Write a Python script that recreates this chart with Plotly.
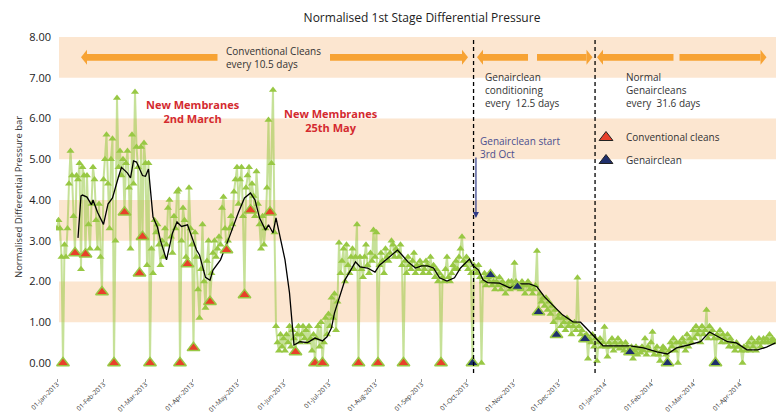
import pandas as pd
import plotly.graph_objects as go

BASE = pd.Timestamp("2013-01-01")

# ---------------- data ----------------
green_2013_01 = [3.3, 3.5, 3.3, 2.6, 0, 2.9, 2.6, 3.3, 4.4, 5.2, 4.6, 3.6, 2.7, 4.6, 4.5, 4.9, 2.3, 4.8, 4.6, 2.67,
                 4.6, 3.4, 2.8, 3.9, 4.8, 4.5, 3.5, 2.8, 3.9, 2.6, 1.74]
green_2013_02 = [4.5, 5.0, 5.6, 4.4, 3.3, 5.0, 5.5, 0, 3.0, 6.5, 4.8, 5.2, 4.6, 5.0, 3.7, 4.9, 5.2, 4.3, 2.8, 5.6,
                 4.4, 6.65, 5.3, 4.8, 2.2, 5.3, 3.1, 5.4]
green_2013_03 = [4.9, 2.4, 4.9, 0, 2.8, 2.2, 3.5, 3.2, 3.4, 2.9, 2.4, 3.0, 2.6, 3.3, 2.9, 3.8, 4.0, 3.1, 2.7, 3.6,
                 3.3, 4.2, 4.25, 0, 3.0, 3.8, 3.5, 2.6, 2.43, 4.3, 3.3]
green_2013_04 = [2.9, 0.37, 3.2, 2.6, 1.8, 1.1, 2.3, 3.4, 2.0, 1.35, 2.5, 3.0, 1.5, 2.2, 2.7, 3.0, 2.6, 2.8, 3.1, 2.9,
                 3.8, 4.07, 3.3, 2.77, 3.0, 3.3, 3.6, 3.4, 4.2, 4.5]
green_2013_05 = [4.8, 3.9, 4.5, 4.8, 3.6, 1.67, 4.3, 4.6, 4.8, 3.75, 4.4, 4.1, 3.6, 4.7, 3.9, 3.4, 2.8, 3.6, 2.9, 3.3,
                 4.3, 5.96, 3.7, 4.9, 6.7, 3.2, 0.9, 0.5, 0.3, 0.7, 0.4]
green_2013_06 = [0.6, 0.3, 0.7, 0.5, 0.9, 0.4, 0.8, 0.6, 0.27, 0.7, 0.9, 0.5, 0.7, 0.9, 0.6, 0.8, 0.5, 0.9, 0.6, 0.3,
                 0.7, 0, 0.6, 0.9, 0.4, 1.0, 0, 0.5, 1.1, 0.7]
green_2013_07 = [1.2, 0.9, 1.6, 1.1, 1.7, 0.8, 1.5, 2.95, 2.2, 2.5, 2.8, 2.0, 2.9, 2.4, 2.2, 2.6, 2.8, 2.3, 2.6, 3.4,
                 0, 2.6, 2.3, 2.1, 2.6, 2.9, 2.4, 2.2, 2.7, 2.5, 3.26]
green_2013_08 = [2.6, 3.2, 0, 2.4, 2.7, 2.5, 2.2, 2.8, 2.6, 2.5, 2.7, 3.0, 2.9, 2.6, 2.8, 2.75, 2.6, 2.9, 2.4, 0,
                 2.5, 2.2, 2.6, 2.4, 2.3, 2.5, 2.7, 2.2, 2.4, 2.3, 2.5]
green_2013_09 = [2.4, 2.2, 2.3, 2.5, 2.4, 2.2, 2.6, 2.3, 2.4, 2.1, 2.3, 2.0, 2.2, 0, 2.1, 2.0, 2.3, 2.6, 2.1, 2.0,
                 2.2, 2.4, 2.3, 2.5, 2.3, 2.6, 2.8, 3.1, 2.5, 2.4]
green_2013_10 = [2.6, 2.3, 2.5, 2.2, 0, 2.4, 2.3, 2.2, 2.4, 2.1, 0, 2.0, 2.2, 1.9, 2.1, 2.0, 2.16, 1.9, 2.0, 1.8,
                 2.0, 1.9, 2.1, 1.8, 2.0, 1.9, 1.7, 1.9, 2.0, 1.8, 2.0]
green_2013_11 = [1.9, 2.45, 2.0, 1.87, 1.9, 1.8, 2.0, 1.9, 1.7, 1.9, 2.0, 1.8, 1.9, 1.7, 1.8, 1.9, 2.75, 1.25, 1.7, 1.5,
                 1.6, 1.4, 1.6, 1.3, 1.5, 1.2, 1.4, 1.0, 1.3, 0.69]
green_2013_12 = [1.1, 1.2, 0.9, 1.1, 1.0, 0.8, 1.1, 0.9, 1.0, 0.7, 0.9, 1.0, 0.8, 2.09, 0.9, 0.7, 0.8, 0.6, 0.59, 0.7,
                 0.1, 0.6, 0.5, 0.7, 0.4, 0.6, 0.05, 0.5, 0.6, 0.4, 0.5]
green_2014_01 = [0.88, 0.4, 0.15, 0.5, 0.4, 0.6, 0.3, 0.5, 0.4, 0.6, 0.35, 0.5, 0.4, 0.3, 0.5, 0.4, 0.3, 0.27, 0.4, 0.1,
                 0.3, 0.4, 0.2, 0.35, 0.25, 0.4, 0.3, 0.6, 0.2, 0.4, 0.3]
green_2014_02 = [0.5, 0.76, 0.2, 0.3, 0.4, 0.2, 0.05, 0.3, 0.4, 0.35, 0.2, 0, 0.3, 0.5, 0.4, 0.6, 0.3, 0.5, 0.0, 0.5,
                 0.4, 0.6, 0.5, 0.3, 0.7, 0.4, 0.6, 0.5]
green_2014_03 = [0.8, 0.6, 0.9, 0.7, 0.8, 0.5, 0.9, 0.7, 0.8, 1.3, 0.6, 0.9, 0.7, 0.8, 0.6, 0, 0.7, 0.6, 0.8, 0.5,
                 0.7, 0.6, 0.5, 0.7, 0.4, 0.6, 0.5, 0.4, 0.3, 0.5, 0.4]
green_2014_04 = [0.4, 0.3, 0.0, 0.4, 0.3, 0.4, 0.5, 0.3, 0.6, 0.4, 0.5, 0.3, 0.5, 0.6, 0.4, 0.5, 0.6, 0.5, 0.6, 0.5,
                 0.7, 0.5, 0.6, 0.55, 0.5]

green_months = [
    ("2013-01-01", green_2013_01), ("2013-02-01", green_2013_02), ("2013-03-01", green_2013_03),
    ("2013-04-01", green_2013_04), ("2013-05-01", green_2013_05), ("2013-06-01", green_2013_06),
    ("2013-07-01", green_2013_07), ("2013-08-01", green_2013_08), ("2013-09-01", green_2013_09),
    ("2013-10-01", green_2013_10), ("2013-11-01", green_2013_11), ("2013-12-01", green_2013_12),
    ("2014-01-01", green_2014_01), ("2014-02-01", green_2014_02), ("2014-03-01", green_2014_03),
    ("2014-04-01", green_2014_04),
]

# trend (black line): day offset from 1 Jan 2013, value
trend_day = [14, 16, 17, 20, 23, 24, 27, 31, 34, 37, 41, 43, 47, 49, 51, 53, 57, 59, 61, 64, 67, 69, 73, 77, 80,
             83, 87, 90, 93, 95, 99, 102, 104, 109, 113, 115, 121, 125, 129, 132, 135, 139, 141, 144, 146, 149,
             152, 155, 157, 158, 162, 167, 172, 177, 180, 183, 185, 189, 192, 195, 199, 202, 207, 212, 215, 221,
             227, 230, 234, 239, 243, 247, 251, 255, 260, 265, 269, 275, 277, 281, 284, 287, 290, 295, 302, 307,
             315, 320, 325, 332, 337, 344, 349, 354, 359, 364, 373, 382, 391, 400, 407, 413, 421, 429, 435, 441,
             447, 453, 460, 467, 473, 479]
trend_val = [3.07, 4.1, 4.12, 4.07, 3.88, 4.0, 3.7, 3.4, 3.9, 4.05, 4.57, 4.8, 4.66, 4.54, 4.96, 4.93, 4.6, 4.58,
             4.76, 3.58, 3.33, 3.0, 2.53, 3.19, 3.46, 3.35, 3.39, 3.1, 2.77, 2.65, 2.1, 2.03, 2.28, 2.53, 2.9, 3.1,
             3.7, 4.05, 4.17, 4.0, 3.56, 3.26, 3.39, 3.19, 3.56, 3.07, 2.53, 1.72, 0.81, 0.44, 0.52, 0.5, 0.61,
             0.54, 0.64, 0.86, 1.23, 1.72, 2.04, 2.23, 2.48, 2.36, 2.33, 2.23, 2.4, 2.58, 2.77, 2.65, 2.48, 2.33,
             2.38, 2.38, 2.33, 2.09, 2.01, 2.09, 2.33, 2.55, 2.4, 2.28, 2.04, 1.97, 1.96, 1.96, 1.84, 1.94, 1.94,
             1.87, 1.62, 1.35, 1.18, 1.01, 1.0, 0.81, 0.61, 0.42, 0.42, 0.42, 0.37, 0.27, 0.22, 0.37, 0.44, 0.52,
             0.76, 0.64, 0.52, 0.49, 0.32, 0.32, 0.39, 0.49]

conv_day = [4, 38, 62, 82, 172, 177, 201, 214, 231, 256, 12, 19, 30, 45, 55, 57, 87, 91, 102, 113, 125, 129, 142, 159]
conv_val = [0, 0, 0, 0, 0, 0, 0, 0, 0, 0, 2.7, 2.67, 1.74, 3.7, 2.2, 3.1, 2.43, 0.37, 1.5, 2.77, 1.67, 3.75, 3.7, 0.27]

gen_day = [277, 289, 307, 321, 333, 352, 382, 407, 439]
gen_val = [0, 2.16, 1.87, 1.25, 0.69, 0.59, 0.27, 0, 0]

y_ticks = [0, 1, 2, 3, 4, 5, 6, 7, 8]
bands = [(1, 2), (3, 4), (5, 6), (7, 8)]

# ---------------- build ----------------
g_x, g_y = [], []
for start, vals in green_months:
    g_x += list(pd.date_range(start, periods=len(vals), freq="D"))
    g_y += vals


def d2t(days):
    return [BASE + pd.Timedelta(days=float(d)) for d in days]


D0, D1 = -0.667, 479.33     # x range in days
Y0, Y1 = -0.37, 8.0
L, T = 56, 37
W, H = 720, 341             # plot area px


def xp(day):
    return (day - D0) / (D1 - D0)


def yp(v):
    return (v - Y0) / (Y1 - Y0)


def px2x(px):
    return (px - L) / W


def px2y(py):
    return (T + H - py) / H


FONT = "Open Sans"
GREEN = "rgb(152,200,68)"
fig = go.Figure()

fig.add_trace(go.Scatter(
    x=g_x, y=g_y, mode="lines+markers", showlegend=False,
    line=dict(color="rgba(152,200,68,0.55)", width=2),
    marker=dict(symbol="triangle-up", size=7, color=GREEN),
    hoverinfo="skip"))
fig.add_trace(go.Scatter(
    x=d2t(trend_day), y=trend_val, mode="lines", showlegend=False,
    line=dict(color="black", width=1.3)))
fig.add_trace(go.Scatter(
    x=d2t(conv_day), y=conv_val, mode="markers", showlegend=False,
    marker=dict(symbol="triangle-up", size=11, color="#E8402A",
                line=dict(color=GREEN, width=1.5))))
fig.add_trace(go.Scatter(
    x=d2t(gen_day), y=gen_val, mode="markers", showlegend=False,
    marker=dict(symbol="triangle-up", size=11, color="#1F2F6B",
                line=dict(color=GREEN, width=1.5))))
# legend-only entries
fig.add_trace(go.Scatter(
    x=[None], y=[None], mode="markers", name="Conventional cleans", legendgroup="a",
    marker=dict(symbol="triangle-up", size=12, color="#E8402A", line=dict(color="#222", width=1))))
fig.add_trace(go.Scatter(
    x=[None], y=[None], mode="markers", name="Genairclean", legendgroup="b",
    marker=dict(symbol="triangle-up", size=12, color="#1F2F6B", line=dict(color="#222", width=1))))

shapes = []
for lo, hi in bands:
    shapes.append(dict(type="rect", xref="paper", yref="y", x0=px2x(59), x1=1, y0=lo, y1=hi,
                       fillcolor="#FCE6D0", line=dict(width=0), layer="below"))

# orange double arrows (tail_day, tip_day)
ORANGE = "#F7A334"
arrow_segments = [(107, 16), (182, 274), (314, 280), (320, 357), (411, 360), (415, 473)]
ay = 7.5
head_len_days = 4.0
shaft_half = 3.4 / H
head_half = 7.5 / H
for tail, tip in arrow_segments:
    s = 1 if tip > tail else -1
    base = tip - s * head_len_days
    y0 = yp(ay)
    shapes.append(dict(type="rect", xref="paper", yref="paper",
                       x0=xp(min(tail, base)), x1=xp(max(tail, base)),
                       y0=y0 - shaft_half, y1=y0 + shaft_half,
                       fillcolor=ORANGE, line=dict(width=0)))
    shapes.append(dict(type="path", xref="paper", yref="paper",
                       path=f"M {xp(tip)},{y0} L {xp(base)},{y0 + head_half} L {xp(base)},{y0 - head_half} Z",
                       fillcolor=ORANGE, line=dict(width=0)))

# dashed separators
for d in [277.7, 358.7]:
    t = BASE + pd.Timedelta(days=d)
    shapes.append(dict(type="line", xref="x", yref="y", x0=t, x1=t, y0=-0.25, y1=8,
                       line=dict(color="black", width=1.3, dash="4px,3px")))

annotations = [
    dict(text="Conventional Cleans<br>every 10.5 days", xref="paper", yref="y",
         x=px2x(273), y=7.5, xanchor="center", yanchor="middle", showarrow=False, align="left",
         font=dict(size=10, color="#333", family=FONT)),
    dict(text="Genairclean<br>conditioning<br>every\u00a0 12.5 days", xref="paper", yref="paper",
         x=px2x(483), y=px2y(68), xanchor="left", yanchor="top", showarrow=False, align="left",
         font=dict(size=10, color="#333", family=FONT)),
    dict(text="Normal<br>Genaircleans<br>every\u00a0 31.6 days", xref="paper", yref="paper",
         x=px2x(624), y=px2y(68), xanchor="left", yanchor="top", showarrow=False, align="left",
         font=dict(size=10, color="#333", family=FONT)),
    dict(text="Genairclean start<br>3rd Oct", xref="paper", yref="paper",
         x=px2x(478), y=px2y(132), xanchor="left", yanchor="top", showarrow=False, align="left",
         font=dict(size=10, color="#4B4F8F", family=FONT)),
    dict(text="", xref="x", yref="y", x=BASE + pd.Timedelta(days=279.3), y=3.56,
         showarrow=True, ax=0, ay=-62, arrowhead=2, arrowsize=1, arrowwidth=1.2, arrowcolor="#2E3A87"),
    dict(text="<b>New Membranes<br>2nd March</b>", xref="paper", yref="paper",
         x=px2x(193), y=px2y(111), xanchor="center", yanchor="middle", showarrow=False,
         font=dict(size=11, color="#D42A2F", family=FONT)),
    dict(text="<b>New Membranes<br>25th May</b>", xref="paper", yref="paper",
         x=px2x(331), y=px2y(120), xanchor="center", yanchor="middle", showarrow=False,
         font=dict(size=11, color="#D42A2F", family=FONT)),
    dict(text="Normalised Differential Pressure bar", xref="paper", yref="paper",
         x=px2x(18), y=px2y(197), xanchor="center", yanchor="middle", textangle=-90, showarrow=False,
         font=dict(size=9.5, color="#333", family=FONT)),
]

fig.update_layout(
    template="none",
    width=784, height=414,
    margin=dict(l=L, r=784 - L - W, t=T, b=414 - T - H),
    paper_bgcolor="white", plot_bgcolor="white",
    font=dict(family=FONT, color="#333"),
    title=dict(text="Normalised 1st Stage Differential Pressure", x=px2x(422), xref="paper", xanchor="center",
               y=1 - 18 / 414, yanchor="middle", font=dict(size=12, color="#222", family=FONT)),
    showlegend=True,
    legend=dict(x=px2x(586), y=px2y(123), xanchor="left", yanchor="top", bgcolor="rgba(0,0,0,0)",
                font=dict(size=10, color="#333", family=FONT), tracegroupgap=4, itemwidth=30,
                traceorder="grouped"),
    shapes=shapes, annotations=annotations,
    xaxis=dict(type="date", range=[BASE + pd.Timedelta(days=D0), BASE + pd.Timedelta(days=D1)],
               tickmode="linear", tick0="2013-01-01", dtick="M1", tickformat="%d-%b-%Y",
               tickangle=-45, tickfont=dict(size=6.5, color="#333", family=FONT),
               ticks="outside", ticklen=3, tickcolor="#999", showgrid=False, showline=False,
               zeroline=False, automargin=False, ticklabelstandoff=-4),
    yaxis=dict(range=[Y0, Y1], tickmode="array", tickvals=y_ticks, tickformat=".2f",
               tickfont=dict(size=11, color="#222", family=FONT), ticks="", showgrid=False,
               showline=False, zeroline=False, automargin=False, ticklabelstandoff=4),
)

fig.write_html("out.html", config={"displayModeBar": False},
               post_script="document.body.style.margin='0';document.body.style.padding='0';")
